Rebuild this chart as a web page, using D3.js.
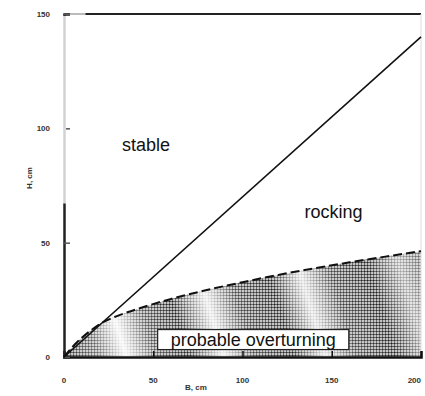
<!DOCTYPE html>
<html>
<head>
<meta charset="utf-8">
<script src="https://cdn.jsdelivr.net/npm/d3@7"></script>
<style>
  body { margin: 0; background: #fff; }
  svg { display: block; font-family: "Liberation Sans", Arial, sans-serif; }
</style>
</head>
<body>
<svg id="chart" width="425" height="396"></svg>
<script>
// values
const xTicks = [0, 50, 100, 150, 200];
const yTicks = [0, 50, 100, 150];
const lineX = [0, 200];
const lineY = [0, 140];
const boundX = [0, 5, 10, 15, 20, 30, 40, 60, 80, 100, 120, 140, 160, 180, 200];
const boundY = [0, 4.6, 8.4, 11.6, 14.4, 18.0, 20.7, 25.4, 29.3, 32.7, 35.9, 38.7, 41.4, 43.9, 46.3];
const regionLabels = ['stable', 'rocking', 'probable overturning'];
const regionX = [46, 151, 106];
const regionY = [90, 61, 5];

const margin = {top: 14, right: 4, bottom: 39, left: 64};
const width = 425, height = 396;

const svg = d3.select('#chart');
const x = d3.scaleLinear().domain([0, 200]).range([margin.left, width - margin.right]);
const y = d3.scaleLinear().domain([0, 150]).range([height - margin.bottom, margin.top]);

const defs = svg.append('defs');
const pat = defs.append('pattern')
  .attr('id', 'dots')
  .attr('patternUnits', 'userSpaceOnUse')
  .attr('width', 3).attr('height', 3);
pat.append('rect').attr('width', 3).attr('height', 3).attr('fill', '#fff');
pat.append('circle').attr('cx', 1.5).attr('cy', 1.5).attr('r', 1.25).attr('fill', '#222');

// light diagonal bands of the halftone
const bands = defs.append('linearGradient')
  .attr('id', 'bands')
  .attr('gradientUnits', 'userSpaceOnUse')
  .attr('x1', 64).attr('y1', 370).attr('x2', 421).attr('y2', 260);
const bandStops = [[0, 0], [0.1, 0.3], [0.17, 0.95], [0.25, 0.2], [0.33, 0], [0.42, 0.9],
  [0.5, 0.15], [0.6, 0], [0.68, 0.85], [0.76, 0.15], [0.86, 0], [0.94, 0.6], [1, 0.3]];
bands.selectAll('stop').data(bandStops).join('stop')
  .attr('offset', d => d[0])
  .attr('stop-color', '#fff')
  .attr('stop-opacity', d => d[1]);

const boundary = boundX.map((v, i) => [v, boundY[i]]);
const area = d3.area()
  .x(d => x(d[0]))
  .y0(y(0))
  .y1(d => y(d[1]))
  .curve(d3.curveMonotoneX);

svg.append('path').datum(boundary).attr('d', area).attr('fill', 'url(#dots)');
svg.append('path').datum(boundary).attr('d', area).attr('fill', 'url(#bands)');

// frame
svg.append('line')
  .attr('x1', x(0)).attr('x2', x(12)).attr('y1', y(150)).attr('y2', y(150))
  .attr('stroke', '#bbb').attr('stroke-width', 2);
svg.append('line')
  .attr('x1', x(12)).attr('x2', x(200)).attr('y1', y(150)).attr('y2', y(150))
  .attr('stroke', '#222').attr('stroke-width', 2);
svg.append('line')
  .attr('x1', x(200)).attr('x2', x(200)).attr('y1', y(150)).attr('y2', y(0))
  .attr('stroke', '#ddd').attr('stroke-width', 1);

// axes, ticks pointing inward
const xAxis = svg.append('g')
  .attr('transform', `translate(0,${y(0)})`)
  .call(d3.axisTop(x).tickValues(xTicks).tickSize(6).tickFormat(''));
xAxis.select('.domain').attr('stroke', '#111').attr('stroke-width', 2.5);
xAxis.selectAll('.tick line').attr('stroke', '#111').attr('stroke-width', 1.5);

const yAxis = svg.append('g')
  .attr('transform', `translate(${x(0)},0)`)
  .call(d3.axisRight(y).tickValues(yTicks).tickSize(6).tickFormat(''));
yAxis.select('.domain').attr('stroke', '#222').attr('stroke-width', 2.5);
yAxis.selectAll('.tick line').attr('stroke', '#555').attr('stroke-width', 1.5);

// faded scan on the upper part of the left axis
svg.append('rect')
  .attr('x', x(0) - 2).attr('y', y(150) + 2)
  .attr('width', 4).attr('height', y(68) - y(150))
  .attr('fill', '#fff').attr('opacity', 0.8);

// tick labels
svg.append('g').selectAll('text').data(xTicks).join('text')
  .attr('x', d => x(d)).attr('y', y(0) + 26)
  .attr('text-anchor', (d, i) => i === xTicks.length - 1 ? 'end' : 'middle')
  .attr('font-size', 8).attr('font-weight', 'bold').attr('fill', '#333')
  .text(d => d);
svg.append('g').selectAll('text').data(yTicks).join('text')
  .attr('x', x(0) - 14).attr('y', d => y(d) + 3)
  .attr('text-anchor', 'end')
  .attr('font-size', 8).attr('font-weight', 'bold').attr('fill', '#333')
  .text(d => d);

svg.append('text')
  .attr('x', 196).attr('y', 390)
  .attr('text-anchor', 'middle')
  .attr('font-size', 8).attr('font-weight', 'bold').attr('fill', '#333')
  .text('B, cm');
svg.append('text')
  .attr('transform', 'translate(32,178) rotate(-90)')
  .attr('text-anchor', 'middle')
  .attr('font-size', 8).attr('font-weight', 'bold').attr('fill', '#333')
  .text('H, cm');

// diagonal and boundary
const line = d3.line().x(d => x(d[0])).y(d => y(d[1]));
svg.append('path')
  .datum(lineX.map((v, i) => [v, lineY[i]]))
  .attr('d', line)
  .attr('fill', 'none').attr('stroke', '#111').attr('stroke-width', 1.6);

svg.append('path')
  .datum(boundary)
  .attr('d', line.curve(d3.curveMonotoneX))
  .attr('fill', 'none').attr('stroke', '#111').attr('stroke-width', 2)
  .attr('stroke-dasharray', '9,4');

// region labels
regionLabels.forEach((t, i) => {
  const g = svg.append('g');
  const txt = g.append('text')
    .attr('x', x(regionX[i])).attr('y', y(regionY[i]))
    .attr('text-anchor', 'middle')
    .attr('font-size', 18).attr('fill', '#111')
    .text(t);
  if (i === 2) {
    const b = txt.node().getBBox();
    g.insert('rect', 'text')
      .attr('x', b.x - 13).attr('y', b.y)
      .attr('width', b.width + 26).attr('height', b.height)
      .attr('fill', '#fff').attr('stroke', '#222').attr('stroke-width', 1.2);
  }
});
</script>
</body>
</html>
